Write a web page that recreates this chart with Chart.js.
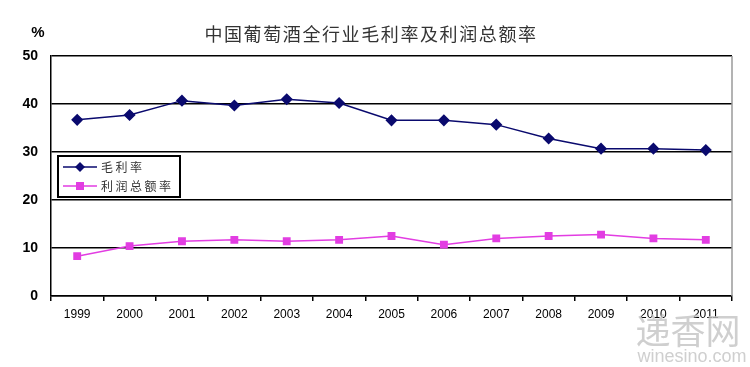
<!DOCTYPE html>
<html>
<head>
<meta charset="utf-8">
<script src="https://cdn.jsdelivr.net/npm/chart.js@4/dist/chart.umd.min.js"></script>
<style>
  html, body { margin: 0; padding: 0; background: #fff; }
  #wrap { position: relative; width: 750px; height: 367px; }
</style>
</head>
<body>
<div id="wrap"><canvas id="chart" width="750" height="367"></canvas></div>
<script>
const years = ["1999", "2000", "2001", "2002", "2003", "2004", "2005", "2006", "2007", "2008", "2009", "2010", "2011"];
const grossMargin = [36.7, 37.7, 40.7, 39.7, 41.0, 40.2, 36.6, 36.6, 35.7, 32.8, 30.7, 30.7, 30.4];
const profitRate = [8.3, 10.4, 11.4, 11.7, 11.4, 11.7, 12.5, 10.7, 12.0, 12.5, 12.8, 12.0, 11.7];
const seriesNames = ["毛利率", "利润总额率"];
const chartTitle = "中国葡萄酒全行业毛利率及利润总额率";

const navy = "#0a0a6e";
const pink = "#e23de2";

// title, unit, inline legend box, right border and watermark
const decorations = {
  id: "decorations",
  afterDraw(chart) {
    const { ctx, chartArea } = chart;
    ctx.save();
    // right border of plot area
    ctx.strokeStyle = "#9a9a9a";
    ctx.lineWidth = 1.5;
    ctx.beginPath();
    ctx.moveTo(chartArea.right, chartArea.top);
    ctx.lineTo(chartArea.right, chartArea.bottom);
    ctx.stroke();

    ctx.fillStyle = "#333";
    ctx.textBaseline = "middle";
    ctx.textAlign = "center";
    ctx.font = '18px "Noto Sans CJK SC"';
    ctx.letterSpacing = "1.6px";
    ctx.fillText(chartTitle, 371, 34);
    ctx.letterSpacing = "0px";
    ctx.font = 'bold 15px "Liberation Sans", Arial';
    ctx.fillStyle = "#000";
    ctx.fillText("%", 38, 33);

    // legend
    ctx.fillStyle = "#fff";
    ctx.fillRect(58, 156, 122, 41);
    ctx.strokeStyle = "#000";
    ctx.lineWidth = 2;
    ctx.strokeRect(58, 156, 122, 41);
    const rows = [
      { label: seriesNames[0], color: navy, shape: "diamond", y: 167 },
      { label: seriesNames[1], color: pink, shape: "square", y: 186 },
    ];
    rows.forEach((r) => {
      ctx.strokeStyle = r.color;
      ctx.lineWidth = 1.5;
      ctx.beginPath();
      ctx.moveTo(63, r.y);
      ctx.lineTo(97, r.y);
      ctx.stroke();
      ctx.fillStyle = r.color;
      ctx.beginPath();
      if (r.shape === "diamond") {
        ctx.moveTo(80, r.y - 5);
        ctx.lineTo(85, r.y);
        ctx.lineTo(80, r.y + 5);
        ctx.lineTo(75, r.y);
        ctx.closePath();
      } else {
        ctx.rect(76, r.y - 4, 8, 8);
      }
      ctx.fill();
      ctx.fillStyle = "#333";
      ctx.textAlign = "left";
      ctx.font = '12px "Noto Sans CJK SC"';
      ctx.letterSpacing = "2.5px";
      ctx.fillText(r.label, 101, r.y);
    });
    ctx.letterSpacing = "0px";

    // watermark
    ctx.fillStyle = "rgba(195,195,195,0.8)";
    ctx.textAlign = "center";
    ctx.font = '35px "Noto Sans CJK SC"';
    ctx.fillText("递香网", 688, 331);
    ctx.font = '18px "Liberation Sans", Arial';
    ctx.fillText("winesino.com", 692, 357);
    ctx.restore();
  },
};

new Chart(document.getElementById("chart"), {
  type: "line",
  data: {
    labels: years,
    datasets: [
      {
        label: seriesNames[0],
        data: grossMargin,
        borderColor: navy,
        backgroundColor: navy,
        borderWidth: 1.5,
        pointStyle: "rectRot",
        pointRadius: 5,
        pointHoverRadius: 5,
        tension: 0,
      },
      {
        label: seriesNames[1],
        data: profitRate,
        borderColor: pink,
        backgroundColor: pink,
        borderWidth: 1.5,
        pointStyle: "rect",
        pointRadius: 4.5,
        pointHoverRadius: 4.5,
        tension: 0,
      },
    ],
  },
  options: {
    responsive: false,
    animation: false,
    layout: { padding: { top: 56, right: 18, bottom: 0, left: 0 } },
    plugins: {
      legend: { display: false },
      title: { display: false },
      tooltip: { enabled: false },
    },
    scales: {
      x: {
        offset: true,
        afterFit: (scale) => { scale.height = 71; },
        grid: {
          offset: true,
          drawOnChartArea: false,
          drawTicks: true,
          tickLength: 5,
          color: "#000",
          lineWidth: 1.5,
        },
        border: { color: "#000", width: 1.5 },
        ticks: {
          color: "#000",
          padding: 6,
          maxRotation: 0,
          font: { family: '"Liberation Sans", Arial', size: 12 },
        },
      },
      y: {
        min: 0,
        max: 50,
        afterFit: (scale) => { scale.width = 51; },
        grid: { color: "#000", lineWidth: 1.5, drawTicks: false },
        border: { color: "#000", width: 1.5 },
        ticks: {
          stepSize: 10,
          color: "#000",
          padding: 13,
          font: { family: '"Liberation Sans", Arial', size: 14, weight: "bold" },
        },
      },
    },
  },
  plugins: [decorations],
});
</script>
</body>
</html>
